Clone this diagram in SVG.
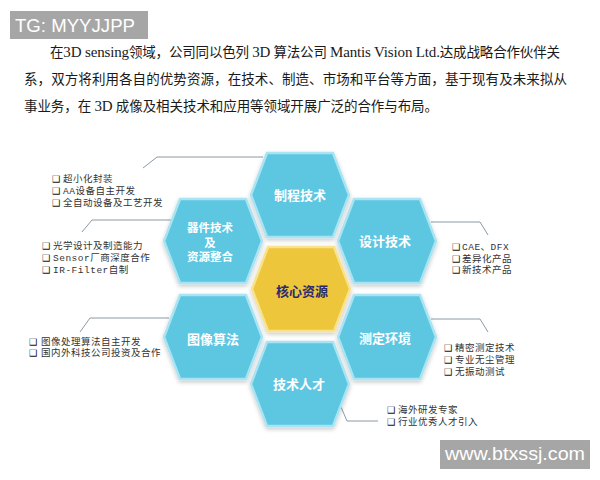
<svg xmlns="http://www.w3.org/2000/svg" xmlns:xlink="http://www.w3.org/1999/xlink" width="600" height="480" viewBox="0 0 600 480">
<style>
.wm{fill:#a6a6a6}
.wmt{fill:#ffffff;font-family:"Liberation Sans",Arial,sans-serif;font-size:19px}
.para{fill:#1a1a1a;font-family:"Liberation Serif","Noto Sans CJK SC",serif;font-size:13.5px}
.lat{font-size:15px}
.hexb{fill:#5dc6e1;stroke:#a9e4f2;stroke-width:2.5;filter:url(#sh)}
.hexy{fill:#edc63b;stroke:#f8e38c;stroke-width:2.5;filter:url(#sh)}
.lb{fill:#ffffff;font-family:"Noto Sans CJK SC",sans-serif;font-size:13px;font-weight:700;text-anchor:middle;dominant-baseline:central}
.sm{font-size:11.5px}
.ly{fill:#2c2a6e;font-family:"Noto Sans CJK SC",sans-serif;font-size:13px;font-weight:700;text-anchor:middle;dominant-baseline:central}
.bl{fill:#333333;font-family:"Liberation Mono","Noto Sans CJK SC",monospace;font-size:9.5px;letter-spacing:0.5px}
.bx{font-family:"DejaVu Sans",sans-serif;font-size:9px;fill:#111}
.con{fill:none;stroke:#8a9aa6;stroke-width:1}
</style>
<defs>
<filter id="sh" x="-20%" y="-20%" width="140%" height="140%">
<feDropShadow dx="0" dy="2" stdDeviation="2" flood-color="#000" flood-opacity="0.22"/>
</filter>
<path id="hex" d="M-49,0 L-33,-42 L33,-42 L49,0 L33,42 L-33,42 Z"/>
</defs>
<rect width="600" height="480" fill="#ffffff"/>

<g id="watermark-top">
<rect class="wm" x="10" y="11" width="138" height="28"/>
<text class="wmt" x="15" y="32" textLength="120" lengthAdjust="spacingAndGlyphs">TG: MYYJJPP</text>
</g>

<g id="paragraph">
<text class="para" x="50" y="57" textLength="510" lengthAdjust="spacing">在<tspan class="lat">3D sensing</tspan>领域，公司同以色列 <tspan class="lat">3D</tspan> 算法公司 <tspan class="lat">Mantis Vision Ltd.</tspan>达成战略合作伙伴关</text>
<text class="para" x="24" y="84" textLength="543" lengthAdjust="spacing">系，双方将利用各自的优势资源，在技术、制造、市场和平台等方面，基于现有及未来拟从</text>
<text class="para" x="24" y="111" textLength="414" lengthAdjust="spacing">事业务，在 <tspan class="lat">3D</tspan> 成像及相关技术和应用等领域开展广泛的合作与布局。</text>
</g>

<g id="connectors">
<polyline class="con" points="263,157 157,157 143,168"/>
<polyline class="con" points="171,220 92,220 82,232"/>
<polyline class="con" points="431,222 480,222 488,235"/>
<polyline class="con" points="169,318 90,318 80,332"/>
<polyline class="con" points="431,319 480,319 488,332"/>
<polyline class="con" points="341,407 347,421 378,421"/>
</g>

<g id="node-zhicheng">
<use xlink:href="#hex" href="#hex" class="hexb" transform="translate(300,195)"/>
<text class="lb" x="300" y="194">制程技术</text>
</g>
<g id="node-qijian">
<use xlink:href="#hex" href="#hex" class="hexb" transform="translate(213,241)"/>
<text class="lb sm" x="210" y="227">器件技术</text>
<text class="lb sm" x="210" y="241.5">及</text>
<text class="lb sm" x="210" y="256">资源整合</text>
</g>
<g id="node-sheji">
<use xlink:href="#hex" href="#hex" class="hexb" transform="translate(387,241)"/>
<text class="lb" x="385" y="240">设计技术</text>
</g>
<g id="node-hexin">
<use xlink:href="#hex" href="#hex" class="hexy" transform="translate(301,289)"/>
<text class="ly" x="302" y="290">核心资源</text>
</g>
<g id="node-tuxiang">
<use xlink:href="#hex" href="#hex" class="hexb" transform="translate(213,337)"/>
<text class="lb" x="213" y="338">图像算法</text>
</g>
<g id="node-ceding">
<use xlink:href="#hex" href="#hex" class="hexb" transform="translate(387,337)"/>
<text class="lb" x="385" y="337">测定环境</text>
</g>
<g id="node-rencai">
<use xlink:href="#hex" href="#hex" class="hexb" transform="translate(300,384)"/>
<text class="lb" x="299" y="383">技术人才</text>
</g>

<g id="list-zhicheng">
<text class="bl" y="181.5"><tspan class="bx" x="52">❑</tspan><tspan x="63">超小化封装</tspan></text>
<text class="bl" y="193.5"><tspan class="bx" x="52">❑</tspan><tspan x="63">AA设备自主开发</tspan></text>
<text class="bl" y="205.5"><tspan class="bx" x="52">❑</tspan><tspan x="63">全自动设备及工艺开发</tspan></text>
</g>
<g id="list-qijian">
<text class="bl" y="248.5"><tspan class="bx" x="42">❑</tspan><tspan x="53">光学设计及制造能力</tspan></text>
<text class="bl" y="260.5"><tspan class="bx" x="42">❑</tspan><tspan x="53">Sensor厂商深度合作</tspan></text>
<text class="bl" y="272.5"><tspan class="bx" x="42">❑</tspan><tspan x="53">IR-Filter自制</tspan></text>
</g>
<g id="list-sheji">
<text class="bl" y="249.5"><tspan class="bx" x="452">❑</tspan><tspan x="462">CAE、DFX</tspan></text>
<text class="bl" y="261.5"><tspan class="bx" x="452">❑</tspan><tspan x="462">差异化产品</tspan></text>
<text class="bl" y="273"><tspan class="bx" x="452">❑</tspan><tspan x="462">新技术产品</tspan></text>
</g>
<g id="list-tuxiang">
<text class="bl" y="344.5"><tspan class="bx" x="29">❑</tspan><tspan x="41">图像处理算法自主开发</tspan></text>
<text class="bl" y="356"><tspan class="bx" x="29">❑</tspan><tspan x="41">国内外科技公司投资及合作</tspan></text>
</g>
<g id="list-ceding">
<text class="bl" y="350.5"><tspan class="bx" x="444">❑</tspan><tspan x="455">精密测定技术</tspan></text>
<text class="bl" y="362.5"><tspan class="bx" x="444">❑</tspan><tspan x="455">专业无尘管理</tspan></text>
<text class="bl" y="374.5"><tspan class="bx" x="444">❑</tspan><tspan x="455">无振动测试</tspan></text>
</g>
<g id="list-rencai">
<text class="bl" y="412.5"><tspan class="bx" x="387">❑</tspan><tspan x="398">海外研发专家</tspan></text>
<text class="bl" y="425"><tspan class="bx" x="387">❑</tspan><tspan x="398">行业优秀人才引入</tspan></text>
</g>

<g id="watermark-bottom">
<rect class="wm" x="440" y="440" width="150" height="29"/>
<text class="wmt" x="445" y="460" textLength="140" lengthAdjust="spacingAndGlyphs">www.btxssj.com</text>
</g>
</svg>
